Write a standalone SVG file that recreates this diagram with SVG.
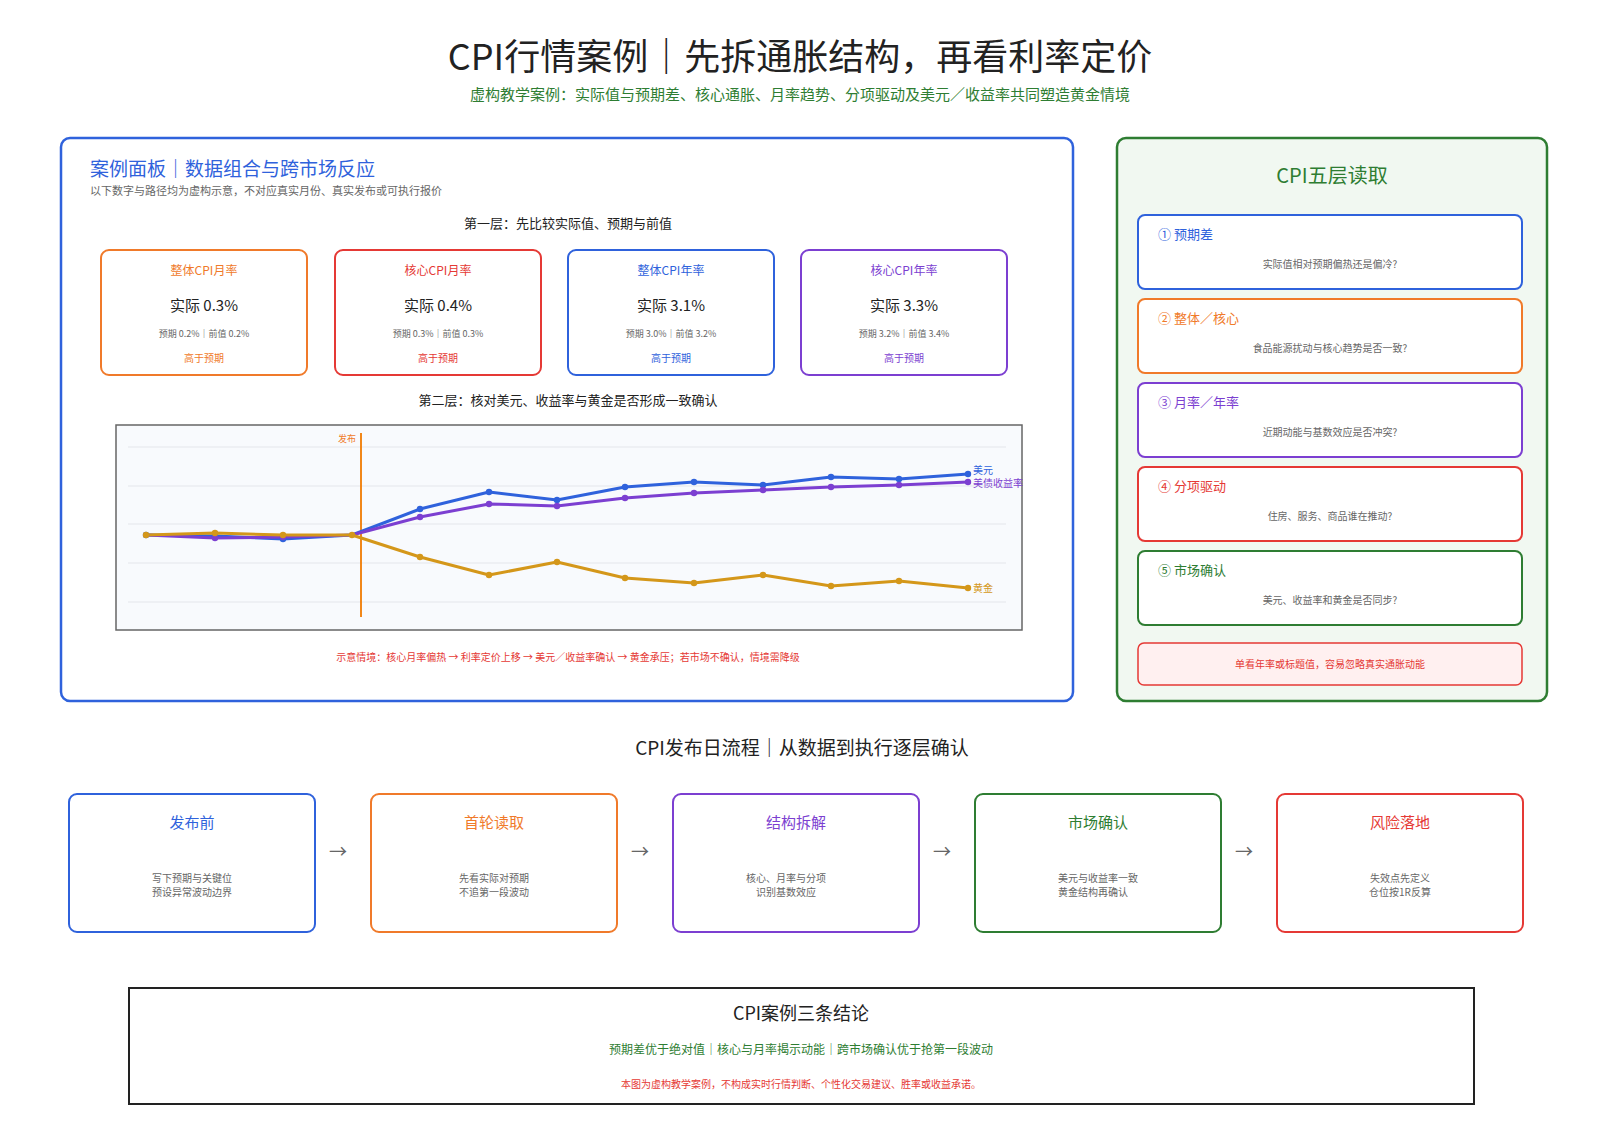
<svg xmlns="http://www.w3.org/2000/svg" width="1600" height="1131" viewBox="0 0 1600 1131">
<style>
text{font-family:"Noto Sans CJK SC","Noto Sans",sans-serif}
.c{text-anchor:middle}
.card{fill:#fff;stroke-width:2}
.blue{fill:#2f62dc}.orange{fill:#f07a2a}.red{fill:#e53935}.purple{fill:#7c3fd1}.green{fill:#2e7d32}.gray{fill:#666}.dark{fill:#222}
.grid{stroke:#e3e6ec;stroke-width:1.2}
</style>
<rect width="1600" height="1131" fill="#fff"/>
<g id="header">
<text x="800" y="70" class="c dark" font-size="36">CPI行情案例｜先拆通胀结构，再看利率定价</text>
<text x="800" y="100" class="c green" font-size="15">虚构教学案例：实际值与预期差、核心通胀、月率趋势、分项驱动及美元／收益率共同塑造黄金情境</text>
</g>
<g id="case-panel">
<rect x="61" y="138" width="1012" height="563" rx="9" fill="#fff" stroke="#2f62dc" stroke-width="2.5"/>
<text x="90" y="176" class="blue" font-size="19">案例面板｜数据组合与跨市场反应</text>
<text x="90" y="195" class="gray" font-size="11">以下数字与路径均为虚构示意，不对应真实月份、真实发布或可执行报价</text>
<text x="568" y="228" class="c dark" font-size="13">第一层：先比较实际值、预期与前值</text>
</g>
<g id="card-1">
<rect x="101" y="250" width="206" height="125" rx="8" class="card" stroke="#f07a2a"/>
<text x="204" y="275" class="c orange" font-size="12">整体CPI月率</text>
<text x="204" y="311" class="c dark" font-size="15">实际 0.3%</text>
<text x="204" y="337" class="c gray" font-size="9">预期 0.2%｜前值 0.2%</text>
<text x="204" y="362" class="c orange" font-size="10">高于预期</text>
</g>
<g id="card-2">
<rect x="335" y="250" width="206" height="125" rx="8" class="card" stroke="#e53935"/>
<text x="438" y="275" class="c red" font-size="12">核心CPI月率</text>
<text x="438" y="311" class="c dark" font-size="15">实际 0.4%</text>
<text x="438" y="337" class="c gray" font-size="9">预期 0.3%｜前值 0.3%</text>
<text x="438" y="362" class="c red" font-size="10">高于预期</text>
</g>
<g id="card-3">
<rect x="568" y="250" width="206" height="125" rx="8" class="card" stroke="#2f62dc"/>
<text x="671" y="275" class="c blue" font-size="12">整体CPI年率</text>
<text x="671" y="311" class="c dark" font-size="15">实际 3.1%</text>
<text x="671" y="337" class="c gray" font-size="9">预期 3.0%｜前值 3.2%</text>
<text x="671" y="362" class="c blue" font-size="10">高于预期</text>
</g>
<g id="card-4">
<rect x="801" y="250" width="206" height="125" rx="8" class="card" stroke="#7c3fd1"/>
<text x="904" y="275" class="c purple" font-size="12">核心CPI年率</text>
<text x="904" y="311" class="c dark" font-size="15">实际 3.3%</text>
<text x="904" y="337" class="c gray" font-size="9">预期 3.2%｜前值 3.4%</text>
<text x="904" y="362" class="c purple" font-size="10">高于预期</text>
</g>
<g id="chart">
<text x="568" y="405" class="c dark" font-size="13">第二层：核对美元、收益率与黄金是否形成一致确认</text>
<rect x="116" y="425" width="906" height="205" fill="#f8fafd" stroke="#666" stroke-width="1.5"/>
<line x1="128" y1="447" x2="1006" y2="447" class="grid"/>
<line x1="128" y1="486" x2="1006" y2="486" class="grid"/>
<line x1="128" y1="524" x2="1006" y2="524" class="grid"/>
<line x1="128" y1="563" x2="1006" y2="563" class="grid"/>
<line x1="128" y1="602" x2="1006" y2="602" class="grid"/>
<line x1="361" y1="433" x2="361" y2="617" stroke="#f07a00" stroke-width="1.8"/>
<text x="356" y="442" text-anchor="end" class="orange" font-size="9">发布</text>
<g fill="none" stroke-width="3" stroke-linejoin="round">
<polyline stroke="#2f62dc" points="146,535 215,536 283,539 352,535 420,509 489,492 557,500 625,487 694,482 763,485 831,477 899,479 968,474"/>
<polyline stroke="#7c3fd1" points="146,535 215,538 283,537 352,535 420,517 489,504 557,506 625,498 694,493 763,490 831,487 899,485 968,482"/>
<polyline stroke="#d4971a" points="146,535 215,533 283,535 352,535 420,557 489,575 557,562 625,578 694,583 763,575 831,586 899,581 968,588"/>
</g>
<g fill="#2f62dc"><circle cx="146" cy="535" r="3.2"/><circle cx="215" cy="536" r="3.2"/><circle cx="283" cy="539" r="3.2"/><circle cx="420" cy="509" r="3.2"/><circle cx="489" cy="492" r="3.2"/><circle cx="557" cy="500" r="3.2"/><circle cx="625" cy="487" r="3.2"/><circle cx="694" cy="482" r="3.2"/><circle cx="763" cy="485" r="3.2"/><circle cx="831" cy="477" r="3.2"/><circle cx="899" cy="479" r="3.2"/><circle cx="968" cy="474" r="3.2"/></g>
<g fill="#7c3fd1"><circle cx="215" cy="538" r="3.2"/><circle cx="283" cy="537" r="3.2"/><circle cx="420" cy="517" r="3.2"/><circle cx="489" cy="504" r="3.2"/><circle cx="557" cy="506" r="3.2"/><circle cx="625" cy="498" r="3.2"/><circle cx="694" cy="493" r="3.2"/><circle cx="763" cy="490" r="3.2"/><circle cx="831" cy="487" r="3.2"/><circle cx="899" cy="485" r="3.2"/><circle cx="968" cy="482" r="3.2"/></g>
<g fill="#d4971a"><circle cx="146" cy="535" r="3.2"/><circle cx="215" cy="533" r="3.2"/><circle cx="283" cy="535" r="3.2"/><circle cx="352" cy="535" r="3.2"/><circle cx="420" cy="557" r="3.2"/><circle cx="489" cy="575" r="3.2"/><circle cx="557" cy="562" r="3.2"/><circle cx="625" cy="578" r="3.2"/><circle cx="694" cy="583" r="3.2"/><circle cx="763" cy="575" r="3.2"/><circle cx="831" cy="586" r="3.2"/><circle cx="899" cy="581" r="3.2"/><circle cx="968" cy="588" r="3.2"/></g>
<text x="973" y="474" class="blue" font-size="10">美元</text>
<text x="973" y="487" class="purple" font-size="10">美债收益率</text>
<text x="973" y="592" fill="#d4971a" font-size="10">黄金</text>
<text x="568" y="661" class="c red" font-size="10">示意情境：核心月率偏热 → 利率定价上移 → 美元／收益率确认 → 黄金承压；若市场不确认，情境需降级</text>
</g>
<g id="layers-panel">
<rect x="1117" y="138" width="430" height="563" rx="9" fill="#f1f8f1" stroke="#2e7d32" stroke-width="2.5"/>
<text x="1332" y="183" class="c green" font-size="20">CPI五层读取</text>
</g>
<g id="layer-1">
<rect x="1138" y="215" width="384" height="74" rx="7" class="card" stroke="#2f62dc"/>
<text x="1158" y="239" class="blue" font-size="13">① 预期差</text>
<text x="1330" y="268" class="c gray" font-size="10">实际值相对预期偏热还是偏冷?</text>
</g>
<g id="layer-2">
<rect x="1138" y="299" width="384" height="74" rx="7" class="card" stroke="#f07a2a"/>
<text x="1158" y="323" class="orange" font-size="13">② 整体／核心</text>
<text x="1330" y="352" class="c gray" font-size="10">食品能源扰动与核心趋势是否一致?</text>
</g>
<g id="layer-3">
<rect x="1138" y="383" width="384" height="74" rx="7" class="card" stroke="#7c3fd1"/>
<text x="1158" y="407" class="purple" font-size="13">③ 月率／年率</text>
<text x="1330" y="436" class="c gray" font-size="10">近期动能与基数效应是否冲突?</text>
</g>
<g id="layer-4">
<rect x="1138" y="467" width="384" height="74" rx="7" class="card" stroke="#e53935"/>
<text x="1158" y="491" class="red" font-size="13">④ 分项驱动</text>
<text x="1330" y="520" class="c gray" font-size="10">住房、服务、商品谁在推动?</text>
</g>
<g id="layer-5">
<rect x="1138" y="551" width="384" height="74" rx="7" class="card" stroke="#2e7d32"/>
<text x="1158" y="575" class="green" font-size="13">⑤ 市场确认</text>
<text x="1330" y="604" class="c gray" font-size="10">美元、收益率和黄金是否同步?</text>
</g>
<g id="warning">
<rect x="1138" y="643" width="384" height="42" rx="6" fill="#fff0f0" stroke="#e53935" stroke-width="1.5"/>
<text x="1330" y="668" class="c red" font-size="10">单看年率或标题值，容易忽略真实通胀动能</text>
</g>
<text x="802" y="755" class="c dark" font-size="19">CPI发布日流程｜从数据到执行逐层确认</text>
<g id="step-1">
<rect x="69" y="794" width="246" height="138" rx="8" class="card" stroke="#2f62dc"/>
<text x="192" y="828" class="c blue" font-size="15">发布前</text>
<text x="192" y="882" class="c gray" font-size="10">写下预期与关键位</text>
<text x="192" y="896" class="c gray" font-size="10">预设异常波动边界</text>
</g>
<g id="step-2">
<rect x="371" y="794" width="246" height="138" rx="8" class="card" stroke="#f07a2a"/>
<text x="494" y="828" class="c orange" font-size="15">首轮读取</text>
<text x="494" y="882" class="c gray" font-size="10">先看实际对预期</text>
<text x="494" y="896" class="c gray" font-size="10">不追第一段波动</text>
</g>
<g id="step-3">
<rect x="673" y="794" width="246" height="138" rx="8" class="card" stroke="#7c3fd1"/>
<text x="796" y="828" class="c purple" font-size="15">结构拆解</text>
<text x="786" y="882" class="c gray" font-size="10">核心、月率与分项</text>
<text x="786" y="896" class="c gray" font-size="10">识别基数效应</text>
</g>
<g id="step-4">
<rect x="975" y="794" width="246" height="138" rx="8" class="card" stroke="#2e7d32"/>
<text x="1098" y="828" class="c green" font-size="15">市场确认</text>
<text x="1098" y="882" class="c gray" font-size="10">美元与收益率一致</text>
<text x="1093" y="896" class="c gray" font-size="10">黄金结构再确认</text>
</g>
<g id="step-5">
<rect x="1277" y="794" width="246" height="138" rx="8" class="card" stroke="#e53935"/>
<text x="1400" y="828" class="c red" font-size="15">风险落地</text>
<text x="1400" y="882" class="c gray" font-size="10">失效点先定义</text>
<text x="1400" y="896" class="c gray" font-size="10">仓位按1R反算</text>
</g>
<g id="connectors" class="gray" font-size="18">
<text x="338" y="858" class="c">→</text>
<text x="640" y="858" class="c">→</text>
<text x="942" y="858" class="c">→</text>
<text x="1244" y="858" class="c">→</text>
</g>
<g id="conclusion">
<rect x="129" y="988" width="1345" height="116" fill="#fff" stroke="#222" stroke-width="2"/>
<text x="801" y="1020" class="c dark" font-size="18">CPI案例三条结论</text>
<text x="801" y="1054" class="c green" font-size="12">预期差优于绝对值｜核心与月率揭示动能｜跨市场确认优于抢第一段波动</text>
<text x="801" y="1088" class="c red" font-size="10">本图为虚构教学案例，不构成实时行情判断、个性化交易建议、胜率或收益承诺。</text>
</g>
</svg>
